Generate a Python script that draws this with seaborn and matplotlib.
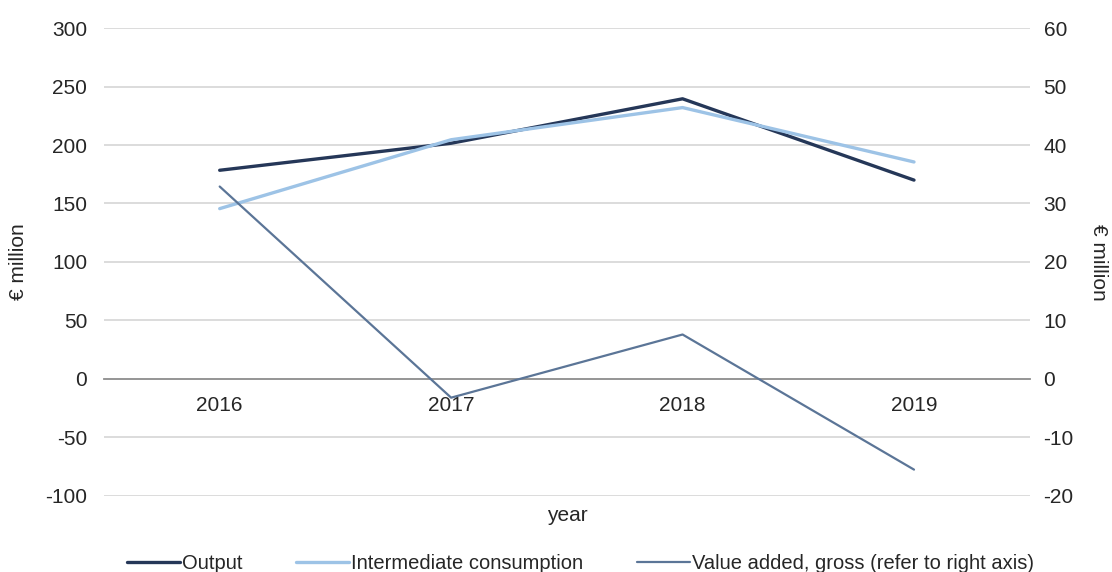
import matplotlib
matplotlib.use("Agg")
import matplotlib.pyplot as plt
import seaborn as sns
import pandas as pd

# Annual figures, € million
years = [2016, 2017, 2018, 2019]
output = [178.4, 201.5, 239.5, 170.0]
intermediate = [145.6, 204.5, 232.0, 185.5]
value_added = [32.9, -3.2, 7.6, -15.5]

left_ticks = [-100, -50, 0, 50, 100, 150, 200, 250, 300]
right_ticks = [-20, -10, 0, 10, 20, 30, 40, 50, 60]

sns.set_theme(style="white")
plt.rcParams["font.family"] = ["Liberation Sans", "DejaVu Sans"]
plt.rcParams["axes.unicode_minus"] = False

df = pd.DataFrame({"year": years, "Output": output,
                   "Intermediate consumption": intermediate,
                   "Value added, gross (refer to right axis)": value_added})

fig = plt.figure(figsize=(11.12, 5.72), dpi=100)
ax = fig.add_axes([0.0935, 0.133, 0.8325, 0.818])
ax2 = ax.twinx()

c_out = "#253758"
c_int = "#9dc3e6"
c_va = "#5b7597"
txt = "#262626"
fs = 15

sns.lineplot(data=df, x="year", y="Output", ax=ax, color=c_out,
             linewidth=2.4, label="Output", legend=False)
sns.lineplot(data=df, x="year", y="Intermediate consumption", ax=ax,
             color=c_int, linewidth=2.4, label="Intermediate consumption",
             legend=False)
sns.lineplot(data=df, x="year", y="Value added, gross (refer to right axis)",
             ax=ax2, color=c_va, linewidth=1.6,
             label="Value added, gross (refer to right axis)", legend=False)

ax.set_xlim(years[0] - 0.5, years[-1] + 0.5)
ax.set_ylim(left_ticks[0], left_ticks[-1])
ax2.set_ylim(right_ticks[0], right_ticks[-1])
ax.set_yticks(left_ticks)
ax2.set_yticks(right_ticks)
ax.set_xticks(years)
ax.set_xticklabels([str(y) for y in years])

# horizontal gridlines
for t in left_ticks:
    if t != 0:
        ax.axhline(t, color="#d9d9d9", linewidth=1.3, zorder=0)

for a in (ax, ax2):
    for s in a.spines.values():
        s.set_visible(False)
    a.tick_params(axis="both", length=0, labelsize=fs, labelcolor=txt)

# category axis sits on the zero line
ax.spines["bottom"].set_visible(True)
ax.spines["bottom"].set_position(("data", 0))
ax.spines["bottom"].set_color("#8c8c8c")
ax.spines["bottom"].set_linewidth(1.3)
ax.tick_params(axis="x", pad=12)
ax.tick_params(axis="y", pad=12)
ax2.tick_params(axis="y", pad=10)

ax.set_xlabel("")
ax.set_ylabel("")
ax2.set_ylabel("")
fig.text(0.017, 0.542, "€ million", ha="center", va="center", fontsize=fs,
         color=txt, rotation=90)
fig.text(0.988, 0.542, "€ million", ha="center", va="center", fontsize=fs,
         color=txt, rotation=270)
fig.text(0.51, 0.099, "year", ha="center", va="center", fontsize=fs,
         color=txt)

h1, l1 = ax.get_legend_handles_labels()
h2, l2 = ax2.get_legend_handles_labels()
fig.legend(h1 + h2, l1 + l2, loc="center", bbox_to_anchor=(0.522, 0.014),
           ncol=3, frameon=False, fontsize=14.5, handlelength=2.6,
           handletextpad=0.1, columnspacing=2.7, labelcolor=txt)

fig.savefig("out.png", dpi=100)
